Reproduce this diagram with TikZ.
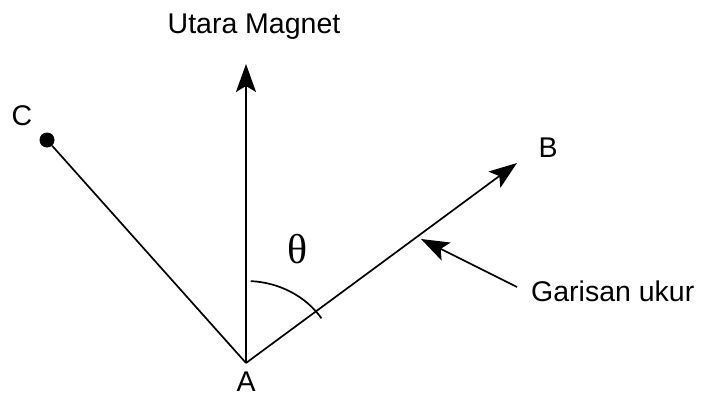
\documentclass[tikz,border=0pt]{standalone}
\usepackage{fontspec}
\setmainfont{Liberation Sans}
\newfontfamily\greekfont{Liberation Serif}
\usetikzlibrary{arrows.meta}

\begin{document}
\begin{tikzpicture}[
  x=1bp, y=1bp,
  font=\fontsize{28.6}{34}\selectfont,
  label/.style={inner sep=0pt, anchor=base},
  dot/.style={circle, fill=black, inner sep=0pt, minimum size=15bp},
  line/.style={line width=1.7bp},
  vec/.style={line, -{Stealth[length=28bp, width=20bp, inset=6bp]}}
]
  \useasboundingbox (0,0) rectangle (702,396);

  % points
  \coordinate (A) at (246,33);
  \coordinate (north) at (246,332);
  \coordinate (B) at (517,233);
  \node[dot] (C) at (47,256) {};
  \coordinate (ptrtail) at (517,109);
  \coordinate (ptrtip) at (421,157);

  % labels
  \node[label] (lblnorth) at (254,363) {Utara Magnet};
  \node[label] (lblA) at (246,5) {A};
  \node[label] (lblB) at (548,239) {B};
  \node[label] (lblC) at (22,271) {C};
  \node[label, anchor=base west] (lblline) at (531,95) {Garisan ukur};
  \node[inner sep=0pt] (theta) at (298,146.5) {\fontsize{42}{46}\greekfont θ};

  % lines
  \draw[vec] (A) -- (north);
  \draw[vec] (A) -- (B);
  \draw[line] (C) -- (A);
  \draw[vec] (ptrtail) -- (ptrtip);
  \draw[line] ([shift={(87:90bp and 82bp)}]A) arc[start angle=87, end angle=33, x radius=90bp, y radius=82bp];
\end{tikzpicture}
\end{document}
